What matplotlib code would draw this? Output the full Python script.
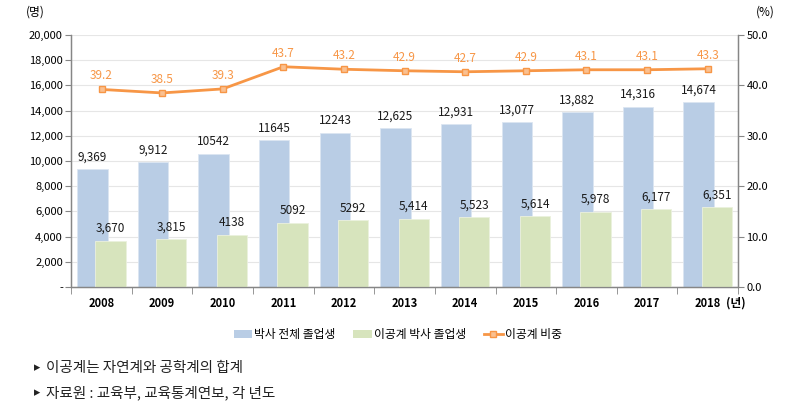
import numpy as np
import matplotlib
matplotlib.use('Agg')
from matplotlib import pyplot as plt
from matplotlib.patches import Patch
from matplotlib.lines import Line2D

plt.rcParams['font.family'] = ['Noto Sans CJK KR', 'DejaVu Sans']

#%% data
years = ['2008', '2009', '2010', '2011', '2012', '2013', '2014', '2015', '2016', '2017', '2018']
total_phd = [9369, 9912, 10542, 11645, 12243, 12625, 12931, 13077, 13882, 14316, 14674]
total_lbl = ['9,369', '9,912', '10542', '11645', '12243', '12,625', '12,931', '13,077', '13,882', '14,316', '14,674']
sci_phd = [3670, 3815, 4138, 5092, 5292, 5414, 5523, 5614, 5978, 6177, 6351]
sci_lbl = ['3,670', '3,815', '4138', '5092', '5292', '5,414', '5,523', '5,614', '5,978', '6,177', '6,351']
ratio = [39.2, 38.5, 39.3, 43.7, 43.2, 42.9, 42.7, 42.9, 43.1, 43.1, 43.3]

#%% plot
blue = '#B9CDE5'
green = '#D7E4BD'
orange = '#F79646'
gray = '#868686'

fig = plt.figure(figsize=(8, 4.15), dpi=100)
ax = fig.add_axes([0.089, 0.3084, 0.8335, 0.6073])
ax2 = ax.twinx()

x = np.arange(len(years))
ax.bar(x - 0.15, total_phd, 0.5, color=blue, edgecolor='#DCE6F2', linewidth=0.6, zorder=2)
ax.bar(x + 0.15, sci_phd, 0.5, color=green, edgecolor='#EBF1DE', linewidth=0.6, zorder=3)

for i in range(len(years)):
    ax.text(x[i] - 0.15, total_phd[i] + 450, total_lbl[i], ha='center', va='bottom', fontsize=8.5, color='#1a1a1a')
    ax.text(x[i] + 0.15, sci_phd[i] + 450, sci_lbl[i], ha='center', va='bottom', fontsize=8.5, color='#1a1a1a')

ax.set_xlim(-0.5, len(years) - 0.5)
ax.set_ylim(0, 20000)
ax.set_yticks(np.arange(0, 20001, 2000))
ax.set_yticklabels(['-'] + ['{:,}'.format(v) for v in range(2000, 20001, 2000)], fontsize=8)
ax.set_xticks(x)
ax.set_xticklabels(years, fontsize=8, fontweight='bold')
ax.set_xticks(np.arange(-0.5, len(years), 1), minor=True)
ax.tick_params(axis='x', which='major', length=0, pad=7)
ax.tick_params(axis='x', which='minor', length=5, color=gray, direction='out')
ax.tick_params(axis='y', length=4, color=gray, direction='out', pad=2)
ax.grid(axis='y', color='#E6E6E6', linewidth=0.8, zorder=0)
ax.set_axisbelow(True)

ax2.plot(x, ratio, color=orange, linewidth=2, marker='s', markersize=5,
         markerfacecolor='#FAC090', markeredgecolor=orange, markeredgewidth=1, zorder=5)
for i in range(len(years)):
    ax2.text(x[i], ratio[i] + 1.4, '{:.1f}'.format(ratio[i]), ha='center', va='bottom', fontsize=8.5, color=orange)
ax2.set_ylim(0, 50)
ax2.set_yticks(np.arange(0, 50.1, 10))
ax2.set_yticklabels(['{:.1f}'.format(v) for v in np.arange(0, 50.1, 10)], fontsize=8)
ax2.tick_params(axis='y', length=4, color=gray, direction='out', pad=2)

for a in (ax, ax2):
    a.spines['top'].set_visible(False)
    for s in ('left', 'right', 'bottom'):
        a.spines[s].set_color(gray)
        a.spines[s].set_linewidth(0.9)

fig.text(0.032, 0.97, '(명)', fontsize=8.5, va='center')
fig.text(0.945, 0.97, '(%)', fontsize=8.5, va='center')
fig.text(726 / 800, 1 - 303 / 415, '(년)', fontsize=8.5, va='center', ha='left', fontweight='bold')

# legend
handles = [Patch(facecolor=blue, edgecolor='none'),
           Patch(facecolor=green, edgecolor='none'),
           Line2D([0], [0], color=orange, linewidth=2, marker='s', markersize=4,
                  markerfacecolor='#FAC090', markeredgecolor=orange)]
fig.legend(handles, ['박사 전체 졸업생', '이공계 박사 졸업생', '이공계 비중'],
           loc='center', bbox_to_anchor=(0.497, 0.193), ncol=3, frameon=False,
           fontsize=8.5, handlelength=1.6, handleheight=0.6, handletextpad=0.15,
           columnspacing=1.5)

fig.text(0.043, 1 - 368 / 415, '▸', fontsize=9, va='center', color='#222222')
fig.text(0.058, 1 - 368 / 415, '이공계는 자연계와 공학계의 합계', fontsize=10.5, va='center', color='#222222')
fig.text(0.043, 1 - 393 / 415, '▸', fontsize=9, va='center', color='#222222')
fig.text(0.058, 1 - 393 / 415, '자료원 : 교육부, 교육통계연보, 각 년도', fontsize=10.5, va='center', color='#222222')

plt.savefig('out.png', dpi=100)
